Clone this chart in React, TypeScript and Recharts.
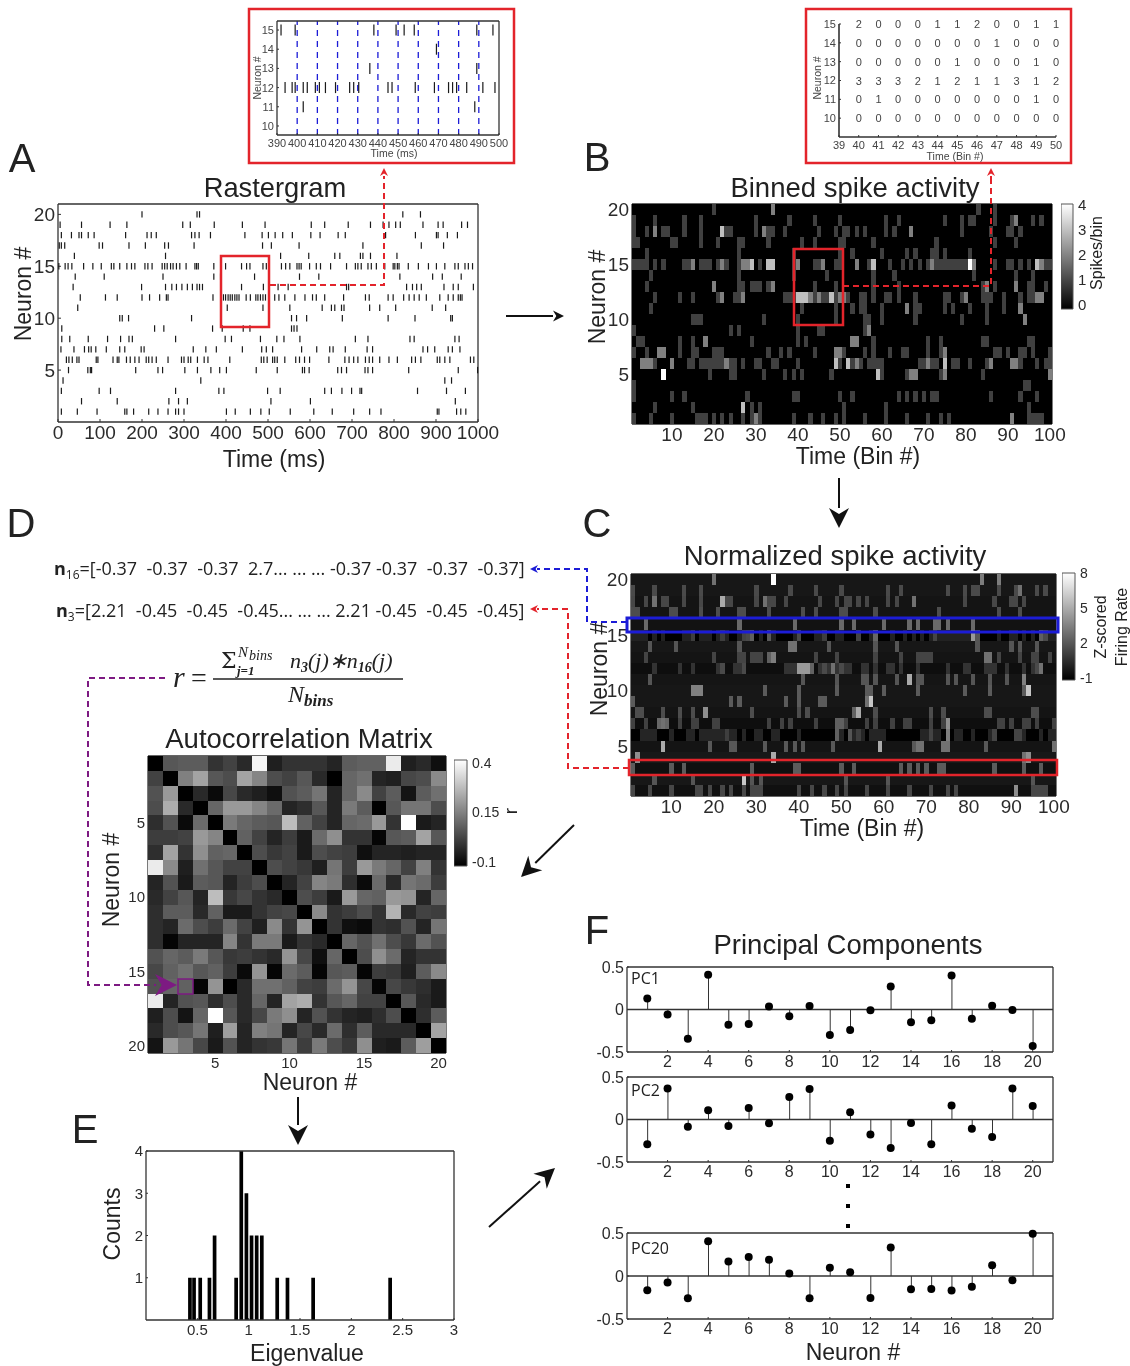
import {
  Bar,
  BarChart,
  ComposedChart,
  Line,
  ReferenceArea,
  ReferenceLine,
  Scatter,
  ScatterChart,
  XAxis,
  YAxis,
} from 'recharts';

const FONT = '"Liberation Sans", Arial, sans-serif';
const INK = '#333';
const RED = '#e3242b';
const BLUE = '#1c1cd6';
const PURPLE = '#7d1a82';

// panel A: spike times (ms), index 0 is neuron 1
const RASTER_SPIKES: number[][] = [
  [8, 46, 93, 159, 164, 180, 216, 238, 262, 280, 287, 300, 401, 422, 458, 483, 503, 553, 609, 653, 704, 742, 769, 903, 907, 949, 959, 971],
  [56, 141, 264, 287, 308, 507, 601, 946],
  [8, 98, 125, 280, 383, 395, 499, 529, 635, 651, 676, 699, 719, 723, 856, 925, 970],
  [12, 340, 921, 937],
  [25, 71, 77, 80, 185, 238, 249, 302, 332, 364, 385, 401, 472, 522, 582, 587, 598, 666, 675, 687, 731, 738, 749, 835, 953, 999],
  [20, 26, 34, 45, 50, 91, 95, 131, 141, 145, 163, 172, 183, 193, 210, 216, 224, 234, 262, 294, 300, 310, 316, 332, 348, 357, 409, 484, 490, 498, 511, 516, 522, 540, 566, 575, 587, 599, 645, 683, 693, 704, 714, 732, 741, 749, 766, 788, 808, 842, 851, 864, 903, 909, 921, 933, 982, 990],
  [7, 38, 63, 73, 79, 90, 115, 147, 159, 198, 205, 322, 352, 377, 439, 485, 496, 511, 580, 616, 647, 655, 684, 736, 749, 869, 880, 897, 929, 939, 957],
  [9, 28, 72, 118, 149, 169, 177, 280, 398, 413, 482, 521, 538, 576, 708, 738, 838, 848, 945, 955],
  [9, 230, 252, 368, 391, 441, 457, 556, 562, 569],
  [147, 153, 168, 318, 556, 568, 592, 677, 786, 850, 935, 939],
  [47, 403, 488, 552, 629, 651, 659, 675, 681, 742, 766, 804, 891, 923],
  [53, 113, 141, 200, 218, 242, 258, 262, 369, 389, 394, 399, 405, 410, 415, 421, 426, 431, 448, 458, 471, 476, 482, 488, 494, 516, 526, 540, 564, 588, 606, 615, 635, 680, 732, 741, 786, 798, 823, 836, 848, 860, 877, 909, 929, 941, 953, 958, 962],
  [36, 199, 256, 271, 282, 295, 308, 320, 331, 337, 344, 437, 489, 524, 548, 687, 692, 830, 844, 854, 865, 919, 941, 953, 989],
  [41, 110, 250, 371, 387, 468, 575, 621, 814, 892, 915, 960],
  [2, 17, 24, 33, 61, 83, 103, 127, 133, 147, 164, 175, 183, 207, 214, 224, 248, 254, 260, 268, 274, 282, 290, 305, 326, 330, 334, 371, 389, 399, 437, 449, 457, 488, 496, 502, 532, 542, 552, 569, 574, 579, 599, 615, 625, 649, 687, 708, 714, 722, 738, 746, 758, 778, 798, 802, 808, 812, 834, 858, 882, 901, 921, 945, 953, 969, 977, 987],
  [39, 256, 530, 597, 659, 671, 720, 726, 744, 807],
  [3, 8, 16, 98, 106, 169, 208, 254, 263, 324, 487, 508, 574, 726, 865, 918],
  [8, 32, 50, 56, 72, 86, 161, 212, 222, 234, 318, 326, 336, 363, 445, 486, 501, 517, 535, 558, 602, 624, 667, 684, 780, 851, 901, 905, 927, 951],
  [5, 56, 124, 164, 297, 315, 372, 439, 493, 603, 635, 691, 744, 774, 788, 804, 815, 869, 905, 917, 961, 975],
  [200, 331, 337, 821, 863],
];
const RASTER_X_TICKS = [0, 100, 200, 300, 400, 500, 600, 700, 800, 900, 1000];
const NEURON_TICKS = [5, 10, 15, 20];

// zoomed raster inset, spike times per neuron
const INSET_N15 = [392, 399, 438, 449, 453, 458, 489, 497];
const INSET_N14 = [469];
const INSET_N13 = [436, 489];
const INSET_N12 = [394, 397.5, 399, 403, 405, 409, 411, 414, 419, 426, 428, 430.5, 445, 447, 458.5, 468, 475, 477, 479, 484, 492, 498];
const INSET_N11 = [403, 488];
const INSET_X_TICKS = [390, 400, 410, 420, 430, 440, 450, 460, 470, 480, 490, 500];
const INSET_GRID = [400, 410, 420, 430, 440, 450, 460, 470, 480, 490];
const INSET_Y_TICKS = [10, 11, 12, 13, 14, 15];

// binned counts inset, rows for neuron 15 down to 10, bins 40-50
const COUNT_BINS = [40, 41, 42, 43, 44, 45, 46, 47, 48, 49, 50];
const COUNT_NEURONS = [15, 14, 13, 12, 11, 10];
const COUNT_ROWS = [
  [2, 0, 0, 0, 1, 1, 2, 0, 0, 1, 1],
  [0, 0, 0, 0, 0, 0, 0, 1, 0, 0, 0],
  [0, 0, 0, 0, 0, 1, 0, 0, 0, 1, 0],
  [3, 3, 3, 2, 1, 2, 1, 1, 3, 1, 2],
  [0, 1, 0, 0, 0, 0, 0, 0, 0, 1, 0],
  [0, 0, 0, 0, 0, 0, 0, 0, 0, 0, 0],
];
const COUNT_X_TICKS = [39, 40, 41, 42, 43, 44, 45, 46, 47, 48, 49, 50];

// panel B: a plain number is a bin holding 1 spike, a pair is [bin, count]; index 0 is neuron 1
type BinEntry = number | [number, number];
const BINNED_ROWS: BinEntry[][] = [
  [1, 5, 10, 16, 17, 18, 20, 22, 24, 27, 29, [30, 2], 31, 39, 43, 46, 49, 51, 56, 61, 66, 71, 74, 76, [91, 2], 95, 96, 97, 98],
  [6, 15, [27, 3], 29, 31, 51, 61, 95],
  [1, 10, 13, 28, 39, 40, 50, 53, 64, 66, 68, 70, 72, 73, 86, 93, 97],
  [1, 94, 95],
  [[8, 4], 19, 24, 25, 32, 37, 39, 41, 48, [59, 3], 60, 66, [67, 2], [68, 2], 74, [75, 2], 84, [100, 2]],
  [[3, 2], [4, 2], [5, 2], 6, [10, 2], 14, 15, 17, 18, 19, 20, 21, 22, [23, 2], 24, 25, 27, 30, 31, 34, 35, 40, [49, 3], 50, [52, 3], 53, [54, 2], 55, 57, 58, 59, 60, 69, 70, [71, 2], 72, 73, [75, 3], 77, 78, 81, 85, [86, 2], [91, 2], [92, 2], 93, 97, 99, 100],
  [1, 4, [7, 2], [8, 2], 12, 15, 16, 20, 21, 22, 33, 36, 38, 44, [49, 2], [50, 2], 51, 56, 58, 62, 65, 66, 71, 74, [75, 2], 87, 88, 90, 93, 94, 96, 100],
  [2, 3, 12, 15, [18, 2], 29, 40, 42, [53, 2], [54, 2], 58, 71, 74, 84, 85, 95, 96],
  [1, 24, 26, 40, 45, 46, [57, 2], 56],
  [15, 16, 17, 32, 40, 49, 56, 57, 60, 68, 79, 85, [94, 2]],
  [5, 41, 49, 53, 55, 56, 60, [66, 2], 68, 69, 75, 77, 81, 85, 89, [93, 2]],
  [6, 12, 15, 21, [22, 2], 25, 26, [27, 2], 37, 38, 39, [40, 3], [41, 3], [42, 3], [43, 2], 44, [45, 2], 46, 47, [48, 3], 49, [50, 2], [51, 2], 52, 55, 56, 58, 61, 62, 64, 68, 75, 76, 79, [80, 2], 84, 85, 86, 89, 93, 95, 96, [97, 2], [98, 2]],
  [4, [20, 2], 26, 27, 29, 30, 31, 33, [34, 2], 44, 49, 58, 64, 84, [85, 2], 87, [92, 2], 95, 96, 99],
  [5, 26, 39, 47, 58, 63, 82, 92, 96],
  [1, 2, 3, 4, 6, 8, 13, 14, [15, 2], 17, 18, 19, 21, [22, 2], 23, 26, [27, 2], [28, 2], [29, 3], 31, [33, 3], [34, 3], 39, [40, 2], 44, 45, [46, 2], 49, 50, [54, 2], 57, [58, 3], 62, 65, 67, 69, 71, [72, 2], 73, 74, 75, 76, 77, 78, 79, 80, [81, 4], [82, 2], 87, 90, 91, 93, 95, [97, 3], [98, 2], 99, 100],
  [4, 26, 39, 50, 53, 60, 66, 68, 72, 73, 75, 81],
  [1, 2, 10, 11, 17, 21, 26, 27, 33, 41, 44, 50, 51, 58, 73, 87, 92],
  [1, 4, [6, 2], 8, 9, 13, 17, [22, 3], 23, 24, 30, [32, 2], 33, 34, 37, 45, 49, 51, 52, 54, 56, 61, 63, [67, 2], 79, 86, 90, 91, 93],
  [1, 6, 13, 17, 30, 38, 44, 50, 61, 64, 75, 79, 81, 82, 87, 91, [92, 2], 96, 98],
  [20, [34, 2], 83, 87],
];
const BIN_X_TICKS = [10, 20, 30, 40, 50, 60, 70, 80, 90, 100];
const SPIKE_BAR_TICKS = [0, 1, 2, 3, 4];

// panel C: z-score of an empty bin, of a plain entry, then the rows ([bin, z] pairs override)
const Z_EMPTY = [-0.45, -0.2, -0.45, -0.15, -0.3, -0.95, -0.5, -0.3, -0.2, -0.2, -0.25, -0.5, -0.3, -0.2, -1, -0.37, -0.3, -0.3, -0.2, -0.2];
const Z_SPIKE = [1.5, 2, 2.21, 3, 2.1, 0.3, 1.3, 1.7, 2.2, 2.2, 2, 0.8, 1.4, 2, 0.2, 2.7, 1.7, 1.5, 1.6, 3];
const ZSCORE_ROWS: BinEntry[][] = [
  [1, 5, 10, 16, 17, 19, 22, 24, 27, 29, 30, 31, 40, 43, 46, 49, 51, 56, 61, 66, 71, 75, 77, [91, 4], 95, 96, 97, 98],
  [6, 15, [27, 6], 29, 31, 51, 61, 95],
  [1, 10, 13, 29, 39, 40, 50, 53, 64, 66, 68, 70, 73, 74, 86, 93, 97],
  [[2, 4], [34, 5], 93, [94, 4]],
  [[8, 5], 19, 24, 25, 32, 37, 39, 41, 48, [59, 5], 67, [68, 3], [69, 3], [74, 3], [75, 3], 84, [100, 3]],
  [3, 4, 5, 6, 10, 14, 15, 17, 18, 19, 20, 21, 22, [23, 1.2], 24, 25, 27, 30, 31, 34, 35, 40, [49, 2.4], 50, [52, 2], 53, [54, 1.2], 55, 57, 58, 59, 60, 69, 70, [71, 1.4], 72, 73, [75, 3.4], 77, 78, 81, 85, [86, 1.4], [91, 1.4], [92, 1.4], 93, 97, 99, 100],
  [1, 4, [7, 2.6], [8, 3], [9, 2.6], 12, 15, 16, 20, 21, 33, 36, 38, 44, [49, 2.4], [50, 2.4], 51, 56, 58, 62, 65, 66, 71, 74, [75, 4], 87, 88, 90, 93, 94, 96, 100],
  [2, 3, 8, 12, 15, [18, 4], 29, 40, 42, [53, 2.5], [54, 5], 58, 71, 74, 84, 85, 95, 96],
  [1, 24, 26, 37, 40, 45, 46, [56, 3], [57, 6]],
  [[15, 3.5], [16, 3.5], [17, 3.5], 32, 40, 49, 56, 57, 60, 68, 79, 85, 93, [94, 6]],
  [5, 41, 49, 55, 56, 58, 63, [66, 5], 68, 69, 75, 77, 81, 85, 89, [93, 3.5]],
  [6, 12, 15, 21, [22, 1.6], 25, 26, [27, 1.6], 37, 38, 39, [40, 4.4], [41, 4.4], [42, 4.4], [43, 2.5], 45, [46, 1.6], 47, [48, 3], 49, [50, 1.6], 51, 52, 55, 56, 58, 61, 62, 64, 68, 75, 79, 80, 84, 85, 86, 89, 93, 95, [96, 1.6], [97, 3]],
  [4, 20, 26, 27, 29, 30, 31, [33, 2.4], [34, 3.4], 44, 49, 58, 64, 68, 69, 70, 71, [84, 3], [85, 3], 87, 92, 95, 96, 99],
  [5, 11, 26, [38, 3], [39, 3], 47, 58, 63, 82, 90, 92, 96],
  [1, 2, 3, 4, 6, 8, 13, 14, [15, 1.2], 17, 18, 19, 21, [22, 1.2], 23, 26, [27, 1.4], [28, 1.6], [29, 2.4], 31, [33, 2.2], 34, 39, [40, 1.6], 44, 45, [46, 1.2], 49, 50, [54, 1.4], 57, [58, 2.6], 62, 65, 67, 69, 71, [72, 1.4], 73, 74, 75, 76, 77, 78, 79, 80, [81, 4.4], [82, 2], 87, 90, 91, 93, 95, [97, 2.4], [98, 1.6], 99, 100],
  [4, 26, 39, 50, 53, 60, 66, 68, 72, 73, 75, 81],
  [1, 2, 10, 11, 17, 21, 26, 27, 33, 41, 44, 50, 51, 58, 73, 87, 92],
  [1, 4, [6, 3], 8, 9, 13, 17, [22, 5], 23, 24, 30, [32, 3], 33, 34, 37, 45, 49, 51, 52, 54, 56, 61, 63, [67, 3], 79, 86, 90, 91, 93],
  [1, 6, 13, 17, 30, 38, 44, 50, 61, 64, 75, 79, 81, 82, 87, 91, [92, 3], 96, 98],
  [[20, 3], [34, 8], [83, 3.4], [87, 3.4]],
];
const ZSCORE_BAR_TICKS = [-1, 2, 5, 8];

// panel D: r values, row 0 is the top row of the matrix
const CORR_ROWS = [
  [-0.1, 0.07, 0.08, 0.08, 0, 0.03, -0.02, 0.38, -0.04, 0, 0, 0, -0.03, 0.08, 0.09, 0.09, 0.36, -0.04, -0.02, -0.07],
  [0.03, -0.1, 0.15, 0.22, 0.07, 0.05, 0.22, 0.16, 0.05, 0.03, 0.07, -0.02, -0.1, 0.1, 0.12, -0.03, -0.04, 0.04, 0.05, 0.17],
  [0.06, 0.2, -0.1, -0.02, -0.08, 0.04, -0.02, -0.04, -0.07, 0.06, 0.08, 0.13, -0.03, 0.1, 0.17, 0.03, 0.08, -0.06, 0.08, 0.12],
  [0.05, 0.24, -0.02, -0.1, 0.1, 0.2, 0.2, 0.16, 0.11, -0.03, -0.01, 0.07, -0.03, 0.14, 0.08, -0.1, 0.07, 0.13, 0.13, 0.05],
  [-0.01, 0.06, -0.08, 0.11, -0.1, 0.14, 0.1, 0.08, 0.07, 0.27, 0.09, 0.03, -0.03, 0.1, 0.11, 0.2, 0, 0.4, -0.05, -0.03],
  [0.02, 0.02, 0.03, 0.2, 0.16, -0.1, 0.09, 0.03, -0.03, 0.02, -0.05, 0.11, 0.18, 0, 0, -0.09, 0.07, 0.08, 0.22, 0.07],
  [-0.01, 0.22, 0, 0.18, 0.09, 0.1, -0.1, 0.05, 0.01, 0.03, -0.05, 0.05, 0.03, 0.02, -0.07, -0.03, -0.03, -0.04, -0.03, -0.03],
  [0.36, 0.17, -0.04, 0.12, 0.07, 0.03, 0.03, -0.1, 0.05, 0.03, 0.01, -0.04, 0.13, 0.02, 0.2, 0.14, 0.1, 0.03, 0.15, 0],
  [-0.03, 0.06, -0.05, 0.08, 0.07, -0.03, 0.02, 0.05, -0.1, -0.03, 0.03, 0.16, 0.14, -0.01, -0.08, 0.11, -0.02, 0.13, 0.11, 0.02],
  [-0.02, 0.03, 0.07, -0.03, 0.27, 0.01, 0.04, 0, -0.02, -0.1, 0.05, 0.02, -0.05, 0.2, 0.1, 0.09, 0.2, 0.19, -0.03, 0.1],
  [-0.01, 0.08, 0.08, -0.02, 0.09, -0.05, -0.05, 0, 0.03, 0.04, -0.1, 0.17, 0, 0.02, 0.05, 0, 0.25, -0.02, 0.03, 0.02],
  [-0.01, -0.03, 0.11, 0.05, 0.02, 0.11, 0.03, -0.04, 0.17, 0, 0.19, -0.1, 0, -0.07, -0.08, 0, -0.01, 0.06, -0.03, 0.13],
  [-0.01, -0.09, -0.03, -0.03, -0.03, 0.16, 0, 0.14, 0.14, -0.05, 0, -0.02, -0.1, 0.1, 0.06, 0.12, 0.05, 0.01, 0.11, 0.06],
  [0.06, 0.1, 0.08, 0.14, 0.07, 0.01, 0.02, 0, -0.02, 0.19, 0.04, -0.07, 0.1, -0.1, 0.05, 0.18, 0.11, -0.03, 0, 0],
  [0.04, 0.09, 0.12, 0.07, 0.09, 0.02, -0.08, 0.19, -0.09, 0.11, 0.08, -0.09, 0.07, 0.08, -0.09, 0.02, 0.01, -0.04, 0.08, 0.17],
  [0.06, 0.1, 0.09, -0.09, 0.19, -0.1, -0.02, 0.12, 0.12, 0.09, 0.03, 0.02, 0.11, 0.19, 0.04, -0.09, 0.04, 0.01, -0.01, -0.05],
  [0.36, -0.03, 0.06, 0.07, -0.01, 0.05, -0.02, 0.1, -0.03, 0.22, 0.24, 0, 0.07, 0.1, 0.03, 0.03, -0.1, 0.07, -0.02, -0.05],
  [-0.04, 0.05, -0.06, 0.1, 0.4, 0.07, -0.02, 0.04, 0.14, 0.18, -0.03, 0.06, 0, -0.03, -0.04, -0.01, 0.05, -0.1, -0.01, 0.08],
  [-0.02, 0.05, 0.07, 0.13, -0.04, 0.21, -0.03, 0.15, 0.13, -0.03, 0.04, -0.02, 0.11, -0.01, 0.08, -0.02, -0.02, -0.02, -0.1, 0.22],
  [-0.06, 0.2, 0.13, 0.04, -0.05, 0.06, -0.03, 0, 0.01, 0.13, 0.02, 0.14, 0.05, 0.01, 0.18, -0.04, -0.05, 0.08, 0.21, -0.1],
];
const CORR_BAR_TICKS = [-0.1, 0.15, 0.4];

// panel E
const EIGEN_CENTERS = [0.43, 0.47, 0.53, 0.62, 0.67, 0.88, 0.93, 0.98, 1.03, 1.08, 1.13, 1.28, 1.38, 1.63, 2.38];
const EIGEN_COUNTS = [1, 1, 1, 1, 2, 1, 4, 3, 2, 2, 2, 1, 1, 1, 1];
const EIGEN_X_TICKS = [0.5, 1, 1.5, 2, 2.5, 3];
const EIGEN_Y_TICKS = [1, 2, 3, 4];

// panel F
const PC1 = [0.13, -0.06, -0.345, 0.41, -0.18, -0.17, 0.035, -0.08, 0.04, -0.3, -0.24, -0.01, 0.27, -0.15, -0.125, 0.4, -0.11, 0.045, -0.005, -0.43];
const PC2 = [-0.29, 0.365, -0.085, 0.11, -0.075, 0.135, -0.045, 0.265, 0.36, -0.25, 0.085, -0.175, -0.335, -0.04, -0.29, 0.165, -0.11, -0.205, 0.365, 0.16];
const PC20 = [-0.165, -0.075, -0.26, 0.405, 0.17, 0.22, 0.19, 0.03, -0.26, 0.095, 0.045, -0.255, 0.33, -0.155, -0.15, -0.17, -0.125, 0.125, -0.05, 0.49];
const PC_X_TICKS = [2, 4, 6, 8, 10, 12, 14, 16, 18, 20];
const PC_Y_TICKS = [-0.5, 0, 0.5];

const LEFT = 44;
const RIGHT = 34;
const TOP = 10;
const BOTTOM = 30;

interface Rect {
  x0: number;
  y0: number;
  x1: number;
  y1: number;
}

const RASTER_RECT: Rect = { x0: 58, y0: 204, x1: 478, y1: 422 };
const BINNED_RECT: Rect = { x0: 632, y0: 204, x1: 1052, y1: 424 };
const ZSCORE_RECT: Rect = { x0: 631, y0: 574, x1: 1056, y1: 796 };
const CORR_RECT: Rect = { x0: 148, y0: 756, x1: 446, y1: 1053 };
const EIGEN_RECT: Rect = { x0: 146, y0: 1151, x1: 454, y1: 1320 };

function chartBox(r: Rect) {
  return {
    width: r.x1 - r.x0 + LEFT + RIGHT,
    height: r.y1 - r.y0 + TOP + BOTTOM,
    margin: { top: 0, right: 0, bottom: 0, left: 0 },
    style: { position: 'absolute' as const, left: r.x0 - LEFT, top: r.y0 - TOP },
  };
}

function gray(v: number, min: number, max: number): string {
  const g = Math.round(Math.max(0, Math.min(1, (v - min) / (max - min))) * 255);
  return `rgb(${g},${g},${g})`;
}

function heatCells(rows: BinEntry[][], empty: number[], spike: number[]) {
  const cells: { x: number; y: number; v: number }[] = [];
  rows.forEach((row, i) => {
    const values = new Map<number, number>();
    row.forEach((e) => {
      if (typeof e === 'number') values.set(e, spike[i]);
      else values.set(e[0], e[1]);
    });
    for (let bin = 1; bin <= 100; bin++) {
      cells.push({ x: bin, y: i + 1, v: values.has(bin) ? (values.get(bin) as number) : empty[i] });
    }
  });
  return cells;
}

const ZEROS = Array.from({ length: 20 }, () => 0);
const ONES = Array.from({ length: 20 }, () => 1);
const BINNED_CELLS = heatCells(BINNED_ROWS, ZEROS, ONES);
const ZSCORE_CELLS = heatCells(ZSCORE_ROWS, Z_EMPTY, Z_SPIKE);
const CORR_CELLS = CORR_ROWS.flatMap((row, i) => row.map((v, j) => ({ x: j + 1, y: i + 1, v })));
const RASTER_POINTS = RASTER_SPIKES.flatMap((row, i) => row.map((t) => ({ x: t, y: i + 1 })));
const INSET_POINTS = [
  ...INSET_N15.map((x) => ({ x, y: 15 })),
  ...INSET_N14.map((x) => ({ x, y: 14 })),
  ...INSET_N13.map((x) => ({ x, y: 13 })),
  ...INSET_N12.map((x) => ({ x, y: 12 })),
  ...INSET_N11.map((x) => ({ x, y: 11 })),
];
const COUNT_POINTS = COUNT_ROWS.flatMap((row, i) =>
  row.map((v, j) => ({ x: COUNT_BINS[j], y: COUNT_NEURONS[i], v })),
);
const EIGEN_DATA = EIGEN_CENTERS.map((eig, i) => ({ eig, count: EIGEN_COUNTS[i] }));

interface AxisSpec {
  xDomain: [number, number];
  yDomain: [number, number];
  xTicks: number[];
  yTicks: number[];
  fontSize: number;
  xKey?: string;
  yKey?: string;
  reversed?: boolean;
  box?: boolean;
  tickLen?: number;
  strokeWidth?: number;
  tickFill?: string;
}

function boxAxes(a: AxisSpec) {
  const line = { stroke: INK, strokeWidth: a.strokeWidth ?? 1.3 };
  const tick = { fontSize: a.fontSize, fill: a.tickFill ?? '#2b2b2b', fontFamily: FONT };
  const len = a.tickLen ?? 3;
  const box = a.box !== false;
  return (
    <>
      <XAxis
        type="number"
        dataKey={a.xKey ?? 'x'}
        domain={a.xDomain}
        ticks={a.xTicks}
        interval={0}
        height={BOTTOM}
        tickSize={-len}
        tickMargin={len + 4}
        tick={tick}
        axisLine={line}
        tickLine={{ stroke: INK }}
      />
      <YAxis
        type="number"
        dataKey={a.yKey ?? 'y'}
        domain={a.yDomain}
        ticks={a.yTicks}
        interval={0}
        width={LEFT}
        reversed={a.reversed}
        tickSize={-len}
        tickMargin={len + 3}
        tick={tick}
        axisLine={line}
        tickLine={{ stroke: INK }}
      />
      <XAxis
        xAxisId="top"
        orientation="top"
        type="number"
        domain={a.xDomain}
        ticks={a.xTicks}
        interval={0}
        height={TOP}
        tickSize={-len}
        tick={false}
        axisLine={box ? line : false}
        tickLine={box ? { stroke: INK } : false}
      />
      <YAxis
        yAxisId="right"
        orientation="right"
        type="number"
        domain={a.yDomain}
        ticks={a.yTicks}
        interval={0}
        width={RIGHT}
        reversed={a.reversed}
        tickSize={-len}
        tick={false}
        axisLine={box ? line : false}
        tickLine={box ? { stroke: INK } : false}
      />
    </>
  );
}

function cellShape(w: number, h: number, min: number, max: number) {
  return (p: any) => (
    <rect
      x={p.cx - w / 2}
      y={p.cy - h / 2}
      width={w}
      height={h}
      fill={gray(p.payload.v, min, max)}
      shapeRendering="crispEdges"
    />
  );
}

function tickShape(half: number, width: number) {
  return (p: any) => (
    <line x1={p.cx} x2={p.cx} y1={p.cy - half} y2={p.cy + half} stroke="#1a1a1a" strokeWidth={width} />
  );
}

function countShape(p: any) {
  return (
    <text x={p.cx} y={p.cy + 4} textAnchor="middle" fontSize={11} fontFamily={FONT} fill="#444">
      {p.payload.v}
    </text>
  );
}

function ColorBar(props: { id: string; r: Rect; domain: [number, number]; ticks: number[]; fontSize: number }) {
  const { id, r, domain, ticks } = props;
  const anchors = ticks.map((y) => ({ x: 0.5, y }));
  return (
    <ScatterChart
      width={r.x1 - r.x0 + 44}
      height={r.y1 - r.y0 + 20}
      margin={{ top: 10, right: 0, bottom: 10, left: 0 }}
      style={{ position: 'absolute', left: r.x0, top: r.y0 - 10 }}
    >
      <defs>
        <linearGradient id={id} x1="0" y1="1" x2="0" y2="0">
          <stop offset="0%" stopColor="#000" />
          <stop offset="100%" stopColor="#fff" />
        </linearGradient>
      </defs>
      <XAxis type="number" dataKey="x" domain={[0, 1]} hide height={0} />
      <YAxis
        type="number"
        dataKey="y"
        orientation="right"
        domain={domain}
        ticks={ticks}
        interval={0}
        width={44}
        tickSize={0}
        tickMargin={5}
        tick={{ fontSize: props.fontSize, fill: '#2b2b2b', fontFamily: FONT }}
        axisLine={false}
        tickLine={false}
      />
      <ReferenceArea
        x1={0}
        x2={1}
        y1={domain[0]}
        y2={domain[1]}
        fill={`url(#${id})`}
        fillOpacity={1}
        stroke="#555"
        strokeWidth={1}
      />
      <Scatter data={anchors} isAnimationActive={false} shape={() => <g />} />
    </ScatterChart>
  );
}

function PcChart(props: { values: number[]; y0: number; y1: number }) {
  const data = props.values.map((v, i) => ({ n: i + 1, v }));
  return (
    <ComposedChart data={data} {...chartBox({ x0: 627, x1: 1053, y0: props.y0, y1: props.y1 })}>
      {boxAxes({
        xDomain: [0, 21],
        yDomain: [-0.5, 0.5],
        xTicks: PC_X_TICKS,
        yTicks: PC_Y_TICKS,
        fontSize: 16,
        xKey: 'n',
        yKey: 'v',
        tickLen: 2,
      })}
      <ReferenceLine y={0} stroke={INK} strokeWidth={1.6} />
      <Bar dataKey="v" barSize={1} fill="#333" isAnimationActive={false} />
      <Line
        dataKey="v"
        stroke="none"
        dot={{ r: 4, fill: '#000', stroke: '#000', strokeWidth: 0 }}
        isAnimationActive={false}
      />
    </ComposedChart>
  );
}

function Txt(props: {
  x: number;
  y: number;
  size: number;
  children: React.ReactNode;
  anchor?: 'start' | 'middle' | 'end';
  rotate?: boolean;
  family?: string;
  italic?: boolean;
  bold?: boolean;
  fill?: string;
}) {
  return (
    <text
      x={props.x}
      y={props.y}
      fontSize={props.size}
      fontFamily={props.family ?? FONT}
      fontStyle={props.italic ? 'italic' : undefined}
      fontWeight={props.bold ? 'bold' : undefined}
      textAnchor={props.anchor ?? 'middle'}
      fill={props.fill ?? '#222'}
      transform={props.rotate ? `rotate(-90 ${props.x} ${props.y})` : undefined}
      style={{ whiteSpace: 'pre' }}
    >
      {props.children}
    </text>
  );
}

function Arrow(props: { x1: number; y1: number; x2: number; y2: number; color?: string; head?: number; width?: number }) {
  const { x1, y1, x2, y2 } = props;
  const color = props.color ?? '#111';
  const size = props.head ?? 11;
  const a = Math.atan2(y2 - y1, x2 - x1);
  const bx = x2 - Math.cos(a) * size;
  const by = y2 - Math.sin(a) * size;
  const nx = -Math.sin(a) * size * 0.5;
  const ny = Math.cos(a) * size * 0.5;
  const nbx = x2 - Math.cos(a) * size * 0.7;
  const nby = y2 - Math.sin(a) * size * 0.7;
  return (
    <g>
      <line x1={x1} y1={y1} x2={bx} y2={by} stroke={color} strokeWidth={props.width ?? 2} />
      <polygon
        points={`${x2},${y2} ${bx + nx},${by + ny} ${nbx},${nby} ${bx - nx},${by - ny}`}
        fill={color}
      />
    </g>
  );
}

function DashPath(props: { d: string; color: string }) {
  return <path d={props.d} fill="none" stroke={props.color} strokeWidth={2} strokeDasharray="6 4" />;
}

function Overlay() {
  const serif = '"Liberation Serif", serif';
  const open = '"Open Sans", sans-serif';
  return (
    <svg width={1130} height={1366} style={{ position: 'absolute', left: 0, top: 0, pointerEvents: 'none' }}>
      {/* panel letters */}
      <Txt x={22} y={172} size={40}>A</Txt>
      <Txt x={597} y={171} size={40}>B</Txt>
      <Txt x={597} y={537} size={40}>C</Txt>
      <Txt x={21} y={537} size={40}>D</Txt>
      <Txt x={85} y={1143} size={40}>E</Txt>
      <Txt x={597} y={944} size={40}>F</Txt>

      {/* titles */}
      <Txt x={275} y={197} size={27.3}>Rastergram</Txt>
      <Txt x={855} y={197} size={27.5}>Binned spike activity</Txt>
      <Txt x={835} y={565} size={27.5}>Normalized spike activity</Txt>
      <Txt x={299} y={748} size={27.5}>Autocorrelation Matrix</Txt>
      <Txt x={848} y={954} size={27.5}>Principal Components</Txt>

      {/* axis labels */}
      <Txt x={274} y={467} size={23}>Time (ms)</Txt>
      <Txt x={31} y={294} size={23} rotate>Neuron #</Txt>
      <Txt x={858} y={464} size={23}>Time (Bin #)</Txt>
      <Txt x={605} y={297} size={23} rotate>Neuron #</Txt>
      <Txt x={862} y={836} size={23}>Time (Bin #)</Txt>
      <Txt x={607} y={669} size={23} rotate>Neuron #</Txt>
      <Txt x={119} y={880} size={23} rotate>Neuron #</Txt>
      <Txt x={310} y={1090} size={23}>Neuron #</Txt>
      <Txt x={307} y={1361} size={23}>Eigenvalue</Txt>
      <Txt x={120} y={1224} size={23} rotate>Counts</Txt>
      <Txt x={853} y={1360} size={23}>Neuron #</Txt>

      {/* colour bar labels */}
      <Txt x={1102} y={253} size={16} rotate>Spikes/bin</Txt>
      <Txt x={1106} y={627} size={16} rotate>Z-scored</Txt>
      <Txt x={1127} y={627} size={16} rotate>Firing Rate</Txt>
      <Txt x={517} y={811} size={19} rotate>r</Txt>

      {/* inset frames and their labels */}
      <rect x={249} y={9} width={265} height={154} fill="none" stroke={RED} strokeWidth={2.5} />
      <rect x={806} y={9} width={265} height={154} fill="none" stroke={RED} strokeWidth={2.5} />
      <Txt x={394} y={157} size={10.5} fill="#444">Time (ms)</Txt>
      <Txt x={261} y={78} size={10.5} rotate fill="#444">Neuron #</Txt>
      <Txt x={955} y={160} size={10.5} fill="#444">Time (Bin #)</Txt>
      <Txt x={821} y={78} size={10.5} rotate fill="#444">Neuron #</Txt>

      {/* selection boxes on the panels */}
      <rect x={221} y={256} width={48} height={71} fill="none" stroke={RED} strokeWidth={2.5} />
      <rect x={794} y={249} width={49} height={76} fill="none" stroke={RED} strokeWidth={2.5} />
      <rect x={627} y={618} width={431} height={14} fill="none" stroke={BLUE} strokeWidth={3} />
      <rect x={629} y={760} width={428} height={15} fill="none" stroke={RED} strokeWidth={2.5} />
      <rect x={178} y={979} width={15} height={15} fill="none" stroke={PURPLE} strokeWidth={1.5} />

      {/* vector lines */}
      <Txt x={54} y={575} size={18} anchor="start" family={open}>
        <tspan fontWeight="bold">n</tspan>
        <tspan fontSize={12} dy={4}>16</tspan>
        <tspan dy={-4}>=[-0.37  -0.37  -0.37  2.7... ... ... -0.37 -0.37  -0.37  -0.37]</tspan>
      </Txt>
      <Txt x={56} y={617} size={18} anchor="start" family={open}>
        <tspan fontWeight="bold">n</tspan>
        <tspan fontSize={12} dy={4}>3</tspan>
        <tspan dy={-4}>=[2.21  -0.45  -0.45  -0.45... ... ... 2.21 -0.45  -0.45  -0.45]</tspan>
      </Txt>

      {/* formula */}
      <Txt x={173} y={687} size={30} anchor="start" family={serif} italic>r</Txt>
      <Txt x={191} y={687} size={28} anchor="start" family={serif}>=</Txt>
      <line x1={213} y1={679} x2={403} y2={679} stroke="#222" strokeWidth={1.5} />
      <Txt x={221} y={668} size={22} anchor="start" family='"DejaVu Serif", serif'>Σ</Txt>
      <Txt x={238} y={657} size={15} anchor="start" family={serif} italic>N</Txt>
      <Txt x={249} y={660} size={14} anchor="start" family={serif} italic>bins</Txt>
      <Txt x={237} y={675} size={13} anchor="start" family={serif} italic bold>j=1</Txt>
      <Txt x={290} y={668} size={22} anchor="start" family={serif} italic>
        n<tspan fontSize={14} dy={4} fontWeight="bold">3</tspan>
        <tspan dy={-4}>(j)∗n</tspan>
        <tspan fontSize={14} dy={4} fontWeight="bold">16</tspan>
        <tspan dy={-4}>(j)</tspan>
      </Txt>
      <Txt x={288} y={702} size={24} anchor="start" family={serif} italic>
        N<tspan fontSize={17} dy={4} fontWeight="bold">bins</tspan>
      </Txt>

      {/* connectors */}
      <DashPath d="M270 285 L384 285 L384 178" color={RED} />
      <Arrow x1={384} y1={178} x2={384} y2={168} color={RED} head={8} />
      <DashPath d="M843 286 L991 286 L991 178" color={RED} />
      <Arrow x1={991} y1={178} x2={991} y2={168} color={RED} head={8} />
      <DashPath d="M627 622 L587 622 L587 569 L537 569" color={BLUE} />
      <Arrow x1={539} y1={569} x2={530} y2={569} color={BLUE} head={8} />
      <DashPath d="M629 768 L568 768 L568 609 L537 609" color={RED} />
      <Arrow x1={539} y1={609} x2={530} y2={609} color={RED} head={8} />
      <DashPath d="M165 678 L88 678 L88 985 L156 985" color={PURPLE} />
      <Arrow x1={155} y1={985} x2={177} y2={985} color={PURPLE} head={22} />

      <Arrow x1={506} y1={316} x2={564} y2={316} />
      <Arrow x1={839} y1={478} x2={839} y2={528} head={20} />
      <Arrow x1={574} y1={825} x2={521} y2={877} head={20} />
      <Arrow x1={298} y1={1097} x2={298} y2={1145} head={20} />
      <Arrow x1={489} y1={1227} x2={555} y2={1168} head={20} />

      {/* ellipsis between PC2 and PC20 */}
      <rect x={846} y={1184} width={4} height={4} fill="#000" />
      <rect x={846} y={1204} width={4} height={4} fill="#000" />
      <rect x={846} y={1224} width={4} height={4} fill="#000" />

      {/* PC tags */}
      <Txt x={631} y={984} size={16} anchor="start" family={open}>PC1</Txt>
      <Txt x={631} y={1096} size={16} anchor="start" family={open}>PC2</Txt>
      <Txt x={631} y={1254} size={16} anchor="start" family={open}>PC20</Txt>
    </svg>
  );
}

export default function App() {
  return (
    <div
      style={{
        position: 'absolute',
        left: 0,
        top: 0,
        width: 1130,
        height: 1366,
        background: '#fff',
        overflow: 'hidden',
        fontFamily: FONT,
        filter: 'blur(0.4px)',
      }}
    >
      {/* A */}
      <ScatterChart {...chartBox(RASTER_RECT)}>
        {boxAxes({
          xDomain: [0, 1000],
          yDomain: [0, 21],
          xTicks: RASTER_X_TICKS,
          yTicks: NEURON_TICKS,
          fontSize: 19,
        })}
        <Scatter data={RASTER_POINTS} isAnimationActive={false} shape={tickShape(3.2, 1.2)} />
      </ScatterChart>

      {/* A inset */}
      <ScatterChart {...chartBox({ x0: 277, y0: 21, x1: 499, y1: 135 })}>
        {boxAxes({
          xDomain: [390, 500],
          yDomain: [9.53, 15.47],
          xTicks: INSET_X_TICKS,
          yTicks: INSET_Y_TICKS,
          fontSize: 11,
          tickLen: 2,
          tickFill: '#444',
        })}
        {INSET_GRID.map((x) => (
          <ReferenceLine key={x} x={x} stroke={BLUE} strokeWidth={1.3} strokeDasharray="6 5" />
        ))}
        <Scatter data={INSET_POINTS} isAnimationActive={false} shape={tickShape(5.5, 1.2)} />
      </ScatterChart>

      {/* B */}
      <ScatterChart {...chartBox(BINNED_RECT)}>
        {boxAxes({
          xDomain: [0.5, 100.5],
          yDomain: [0.5, 20.5],
          xTicks: BIN_X_TICKS,
          yTicks: NEURON_TICKS,
          fontSize: 19,
          tickLen: 2,
        })}
        <Scatter data={BINNED_CELLS} isAnimationActive={false} shape={cellShape(4.2, 11, 0, 4)} />
      </ScatterChart>
      <ColorBar id="cbB" r={{ x0: 1061, y0: 204, x1: 1073, y1: 309 }} domain={[-0.16, 4.04]} ticks={SPIKE_BAR_TICKS} fontSize={15} />

      {/* B inset */}
      <ScatterChart {...chartBox({ x0: 839, y0: 24, x1: 1056, y1: 137 })}>
        {boxAxes({
          xDomain: [39, 50],
          yDomain: [9, 15],
          xTicks: COUNT_X_TICKS,
          yTicks: INSET_Y_TICKS,
          fontSize: 11,
          box: false,
          tickLen: 2,
          strokeWidth: 1.6,
          tickFill: '#444',
        })}
        <Scatter data={COUNT_POINTS} isAnimationActive={false} shape={countShape} />
      </ScatterChart>

      {/* C */}
      <ScatterChart {...chartBox(ZSCORE_RECT)}>
        {boxAxes({
          xDomain: [0.5, 100.5],
          yDomain: [0.5, 20.5],
          xTicks: BIN_X_TICKS,
          yTicks: NEURON_TICKS,
          fontSize: 19,
          tickLen: 2,
        })}
        <Scatter data={ZSCORE_CELLS} isAnimationActive={false} shape={cellShape(4.25, 11.1, -1, 8)} />
      </ScatterChart>
      <ColorBar id="cbC" r={{ x0: 1062, y0: 573, x1: 1075, y1: 680 }} domain={[-1.17, 8]} ticks={ZSCORE_BAR_TICKS} fontSize={14} />

      {/* D */}
      <ScatterChart {...chartBox(CORR_RECT)}>
        {boxAxes({
          xDomain: [0.5, 20.5],
          yDomain: [0.5, 20.5],
          xTicks: NEURON_TICKS,
          yTicks: NEURON_TICKS,
          fontSize: 15,
          reversed: true,
          tickLen: 2,
        })}
        <Scatter data={CORR_CELLS} isAnimationActive={false} shape={cellShape(14.9, 14.85, -0.1, 0.4)} />
      </ScatterChart>
      <ColorBar id="cbD" r={{ x0: 454, y0: 760, x1: 467, y1: 866 }} domain={[-0.12, 0.415]} ticks={CORR_BAR_TICKS} fontSize={14} />

      {/* E */}
      <BarChart data={EIGEN_DATA} {...chartBox(EIGEN_RECT)}>
        {boxAxes({
          xDomain: [0, 3],
          yDomain: [0, 4],
          xTicks: EIGEN_X_TICKS,
          yTicks: EIGEN_Y_TICKS,
          fontSize: 15,
          xKey: 'eig',
          yKey: 'count',
          tickLen: 2,
        })}
        <Bar dataKey="count" barSize={5} fill="#000" isAnimationActive={false} />
      </BarChart>

      {/* F */}
      <PcChart values={PC1} y0={967} y1={1052} />
      <PcChart values={PC2} y0={1077} y1={1162} />
      <PcChart values={PC20} y0={1233} y1={1319} />

      <Overlay />
    </div>
  );
}
